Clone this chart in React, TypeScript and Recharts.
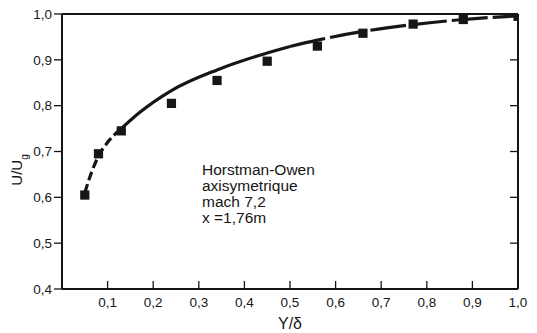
import React from 'react';
import { ComposedChart, Line, Scatter, XAxis, YAxis, ZAxis, Label } from 'recharts';

// measured points (squares)
const measuredX = [0.05, 0.08, 0.13, 0.24, 0.34, 0.45, 0.56, 0.66, 0.77, 0.88, 1.0];
const measuredU = [0.605, 0.695, 0.745, 0.805, 0.855, 0.897, 0.93, 0.958, 0.978, 0.988, 0.995];

// reference profile curve
const curveX = [0.05, 0.065, 0.08, 0.1, 0.13, 0.17, 0.24, 0.34, 0.45, 0.5, 0.56, 0.66, 0.77, 0.88, 1.0];
const curveU = [0.61, 0.655, 0.69, 0.72, 0.75, 0.785, 0.833, 0.878, 0.915, 0.929, 0.943, 0.962, 0.977, 0.988, 0.996];

const xTicks = [0.1, 0.2, 0.3, 0.4, 0.5, 0.6, 0.7, 0.8, 0.9, 1.0];
const yTicks = [0.4, 0.5, 0.6, 0.7, 0.8, 0.9, 1.0];

const noteLines = ['Horstman-Owen', 'axisymetrique', 'mach 7,2', 'x =1,76m'];

const ink = '#161616';
const font = '"Liberation Sans", Arial, sans-serif';

const measured = measuredX.map((x, i) => ({ x, y: measuredU[i] }));
const curve = curveX.map((x, i) => ({ x, y: curveU[i] }));
const nearWall = curve.slice(0, 5);
const middle = curve.slice(4, 10);
const outer = curve.slice(9);

const fmt = (v: number) => v.toFixed(1).replace('.', ',');

const BottomTick = (props: any) => {
  const { x, y, payload } = props;
  return (
    <g>
      <line x1={x} y1={y} x2={x} y2={y - 8} stroke={ink} strokeWidth={1.3} />
      <text x={x} y={y + 18} textAnchor="middle" fill={ink} fontSize={13.5} fontFamily={font}>
        {fmt(payload.value)}
      </text>
    </g>
  );
};

const TopTick = (props: any) => {
  const { x, y } = props;
  return <line x1={x} y1={y} x2={x} y2={y + 8} stroke={ink} strokeWidth={1.3} />;
};

const RightTick = (props: any) => {
  const { x, y } = props;
  return <line x1={x} y1={y} x2={x - 8} y2={y} stroke={ink} strokeWidth={1.3} />;
};

const YLabel = () => (
  <text
    x={22}
    y={170}
    transform="rotate(-90 22 170)"
    textAnchor="middle"
    fill={ink}
    fontSize={15}
    fontFamily={font}
  >
    U/U<tspan baselineShift="sub" fontSize={10}>g</tspan>
  </text>
);

export default function App() {
  return (
    <div style={{ position: 'absolute', left: 0, top: 0, width: 537, height: 333, background: '#fff' }}>
      <ComposedChart width={537} height={333} margin={{ top: 13, right: 18, bottom: 0, left: 12 }}>
        <XAxis
          xAxisId="b"
          dataKey="x"
          type="number"
          domain={[0, 1]}
          ticks={xTicks}
          allowDataOverflow
          height={44}
          tickSize={0}
          tickMargin={0}
          tickLine={false}
          tick={<BottomTick />}
          axisLine={{ stroke: ink, strokeWidth: 2 }}
        >
          <Label value="Y/δ" position="insideBottom" offset={4} fill={ink} fontSize={16} fontFamily={font} />
        </XAxis>
        <XAxis
          xAxisId="t"
          orientation="top"
          type="number"
          domain={[0, 1]}
          ticks={xTicks}
          allowDataOverflow
          height={1}
          tickSize={0}
          tickMargin={0}
          tickLine={false}
          tick={<TopTick />}
          axisLine={{ stroke: ink, strokeWidth: 2 }}
        />
        <YAxis
          yAxisId="l"
          type="number"
          domain={[0.4, 1.0]}
          ticks={yTicks}
          allowDataOverflow
          width={50}
          tickSize={8}
          tickMargin={2}
          tickFormatter={fmt}
          tickLine={{ stroke: ink, strokeWidth: 1.3 }}
          axisLine={{ stroke: ink, strokeWidth: 2 }}
          tick={{ fill: ink, fontSize: 13.5, fontFamily: font }}
        >
          <Label content={<YLabel />} />
        </YAxis>
        <YAxis
          yAxisId="r"
          orientation="right"
          type="number"
          domain={[0.4, 1.0]}
          ticks={yTicks}
          allowDataOverflow
          width={1}
          tickSize={0}
          tickMargin={0}
          tickLine={false}
          tick={<RightTick />}
          axisLine={{ stroke: ink, strokeWidth: 2 }}
        />
        <ZAxis range={[85, 85]} />
        <Line
          data={nearWall}
          xAxisId="b"
          yAxisId="l"
          dataKey="y"
          type="monotone"
          stroke={ink}
          strokeWidth={3.2}
          strokeDasharray="9 4"
          dot={false}
          activeDot={false}
          isAnimationActive={false}
        />
        <Line
          data={middle}
          xAxisId="b"
          yAxisId="l"
          dataKey="y"
          type="monotone"
          stroke={ink}
          strokeWidth={3.2}
          dot={false}
          activeDot={false}
          isAnimationActive={false}
        />
        <Line
          data={outer}
          xAxisId="b"
          yAxisId="l"
          dataKey="y"
          type="monotone"
          stroke={ink}
          strokeWidth={3.2}
          strokeDasharray="36 5"
          dot={false}
          activeDot={false}
          isAnimationActive={false}
        />
        <Scatter
          data={measured}
          xAxisId="b"
          yAxisId="l"
          dataKey="y"
          shape="square"
          fill={ink}
          isAnimationActive={false}
        />
      </ComposedChart>
      <div
        style={{
          position: 'absolute',
          left: 202,
          top: 162,
          fontFamily: font,
          fontSize: 15.5,
          lineHeight: '16px',
          color: ink,
          whiteSpace: 'nowrap',
        }}
      >
        {noteLines.map((t) => (
          <div key={t}>{t}</div>
        ))}
      </div>
    </div>
  );
}
